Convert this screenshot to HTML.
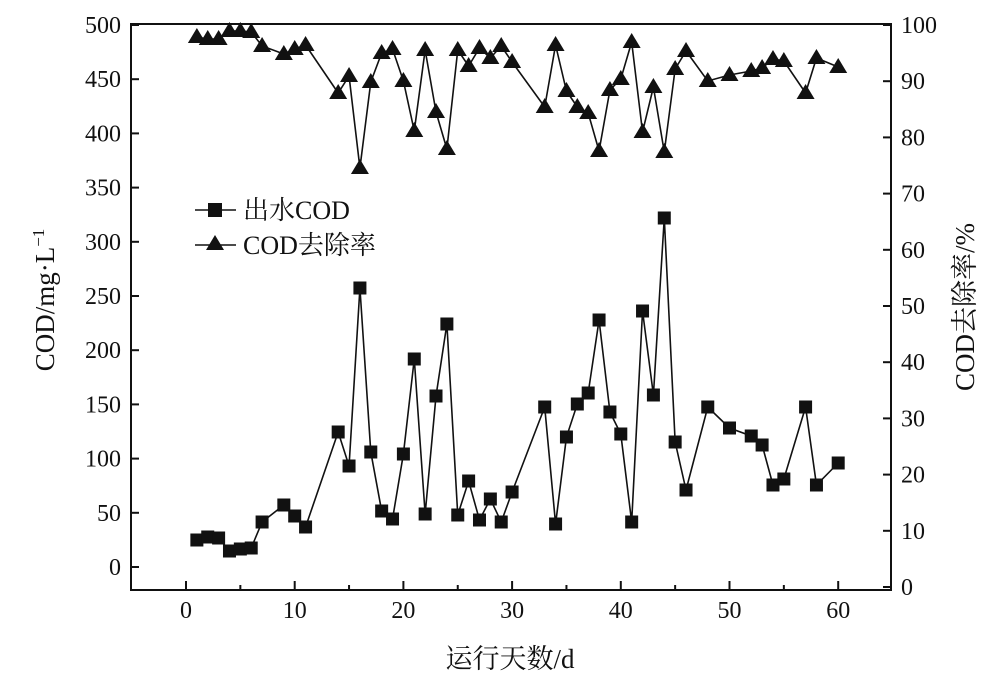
<!DOCTYPE html>
<html><head><meta charset="utf-8"><style>
html,body{margin:0;padding:0;background:#fff;}
svg text{font-family:"Liberation Serif","Noto Serif CJK SC","Noto Sans CJK SC",serif;fill:#111;}
</style></head><body>
<svg width="1000" height="687" viewBox="0 0 1000 687" xmlns="http://www.w3.org/2000/svg">
<rect x="131" y="24" width="760" height="566" fill="none" stroke="#111" stroke-width="2"/>
<g stroke="#111" stroke-width="2" id="ticks"></g>
<g font-size="24" text-anchor="end" id="ly"></g>
<g font-size="24" text-anchor="start" id="ry"></g>
<g font-size="24" text-anchor="middle" id="bx"></g>
<polyline id="sq" fill="none" stroke="#111" stroke-width="1.6"/>
<polyline id="tr" fill="none" stroke="#111" stroke-width="1.6"/>
<g id="marks" fill="#111"></g>
<line x1="195" y1="210" x2="236" y2="210" stroke="#111" stroke-width="1.6"/>
<rect x="208" y="203" width="14" height="14" fill="#111"/>
<text x="243" y="219" font-size="26">出水COD</text>
<line x1="195" y1="245" x2="236" y2="245" stroke="#111" stroke-width="1.6"/>
<polygon points="215,235 206,250 224,250" fill="#111"/>
<text x="243" y="254" font-size="26">COD去除率</text>
<text x="510" y="668" font-size="27" text-anchor="middle">运行天数/d</text>
<text transform="translate(54,300) rotate(-90)" font-size="27" text-anchor="middle">COD/mg·L<tspan dy="-10" font-size="17">−1</tspan></text>
<text transform="translate(974,307) rotate(-90)" font-size="27" text-anchor="middle">COD去除率/%</text>
</svg>
<script>
var NS="http://www.w3.org/2000/svg";
function el(p,t,a,txt){var e=document.createElementNS(NS,t);for(var k in a)e.setAttribute(k,a[k]);if(txt!=null)e.textContent=txt;document.getElementById(p).appendChild(e);}
for(var v=0;v<=500;v+=50){var y=567-v*1.084;el("ticks","line",{x1:131,y1:y,x2:139,y2:y});el("ly","text",{x:121,y:y+8},v);}
for(var v=0;v<=100;v+=10){var y=587-v*5.62;el("ticks","line",{x1:883,y1:y,x2:891,y2:y});el("ry","text",{x:901,y:y+8},v);}
for(var d=0;d<=60;d+=5){var x=186+d*10.87;el("ticks","line",{x1:x,y1:590,x2:x,y2:d%10?585:581});if(d%10==0)el("bx","text",{x:x,y:618},d);}
var S=[[1,540],[2,537],[3,538],[4,551],[5,549],[6,548],[7,522],[9,505],[10,516],[11,527],[14,432],[15,466],[16,288],[17,452],[18,511],[19,519],[20,454],[21,359],[22,514],[23,396],[24,324],[25,515],[26,481],[27,520],[28,499],[29,522],[30,492],[33,407],[34,524],[35,437],[36,404],[37,393],[38,320],[39,412],[40,434],[41,522],[42,311],[43,395],[44,218],[45,442],[46,490],[48,407],[50,428],[52,436],[53,445],[54,485],[55,479],[57,407],[58,485],[60,463]];
var T=[[1,37],[2,39],[3,39],[4,31],[5,31],[6,32],[7,46],[9,54],[10,49],[11,45],[14,93],[15,76],[16,168],[17,82],[18,53],[19,49],[20,81],[21,131],[22,50],[23,112],[24,149],[25,50],[26,66],[27,48],[28,58],[29,46],[30,62],[33,107],[34,45],[35,91],[36,107],[37,113],[38,151],[39,90],[40,79],[41,42],[42,132],[43,87],[44,152],[45,69],[46,51],[48,81],[50,75],[52,71],[53,68],[54,59],[55,61],[57,93],[58,58],[60,67]];
var X=function(d){return 186+d*10.87;};
document.getElementById("sq").setAttribute("points",S.map(function(p){return X(p[0])+","+p[1];}).join(" "));
document.getElementById("tr").setAttribute("points",T.map(function(p){return X(p[0])+","+p[1];}).join(" "));
S.forEach(function(p){el("marks","rect",{x:X(p[0])-6.5,y:p[1]-6.5,width:13,height:13});});
T.forEach(function(p){var x=X(p[0]),y=p[1];el("marks","polygon",{points:x+","+(y-9)+" "+(x-9)+","+(y+6)+" "+(x+9)+","+(y+6)});});
</script>
</body></html>
